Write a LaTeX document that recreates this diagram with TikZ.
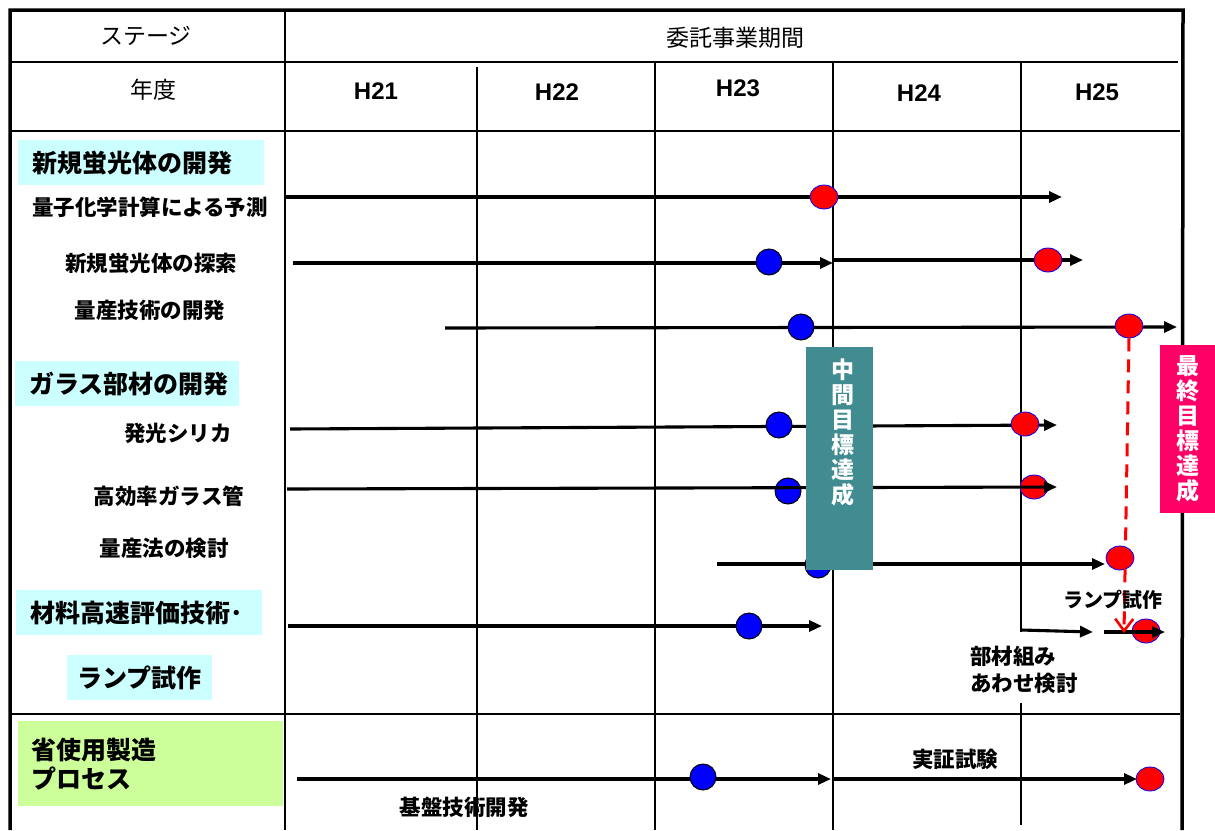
\documentclass[tikz,border=0pt]{standalone}
\usepackage{fontspec}
\setmainfont{Liberation Sans}
\newfontfamily\jp{Noto Sans CJK JP}
\usetikzlibrary{arrows.meta,shapes.geometric}
\definecolor{catcyan}{RGB}{204,255,255}
\definecolor{catgreen}{RGB}{204,255,153}
\definecolor{teal}{RGB}{64,140,144}
\definecolor{pinkbox}{RGB}{255,0,102}
\begin{document}
\begin{tikzpicture}[x=1pt,y=-1pt,
  frame/.style={line width=3.5pt},
  hline/.style={line width=1.8pt},
  vline/.style={line width=1.4pt},
  bar/.style={line width=3.1pt,-{Triangle[length=13pt,width=11pt]}},
  bluems/.style={circle,draw=black,line width=1pt,fill=blue,minimum size=26pt,inner sep=0pt},
  redms/.style={ellipse,draw=blue,line width=0.8pt,fill=red,minimum width=28pt,minimum height=24pt,inner sep=0pt},
  hdr/.style={font=\jp\fontsize{23}{23}\selectfont,inner sep=0pt},
  yr/.style={font=\bfseries\fontsize{24}{24}\selectfont,inner sep=0pt},
  catbox/.style={fill=catcyan,anchor=north west,inner ysep=0pt,minimum height=45pt,align=left,font=\jp\bfseries\fontsize{25}{29}\selectfont},
  sub/.style={font=\jp\bfseries\fontsize{21.5}{27}\selectfont,inner sep=0pt},
  small/.style={font=\jp\bfseries\fontsize{20}{27}\selectfont,inner sep=0pt},
  goal/.style={font=\jp\bfseries\fontsize{23}{25}\selectfont,text=white,align=center,inner sep=0pt},
]
\useasboundingbox (0,0) rectangle (1215,830);
% ---------- grid ----------
\draw[hline] (12,62) -- (1178,62);
\draw[hline] (12,131) -- (1180,131);
\draw[hline] (12,714) -- (1180,714);
\draw[vline] (285,10) -- (285,830);
\draw[vline] (477,67) -- (477,830);
\draw[vline] (655,62) -- (655,830);
\draw[vline] (833,62) -- (833,830);
\draw[vline] (1021,62) -- (1021,632);
\draw[vline] (1021,703) -- (1021,825);
\draw[frame] (10,830) -- (10,10) -- (1183,10) -- (1182,830);
% ---------- header ----------
\node[hdr] (stage) at (146,36) {ステージ};
\node[hdr] (period) at (735,38) {委託事業期間};
\node[hdr] (nendo) at (153,90) {年度};
\node[yr] (h21) at (376,91) {H21};
\node[yr] (h22) at (557,92) {H22};
\node[yr] (h23) at (738,88) {H23};
\node[yr] (h24) at (919,93) {H24};
\node[yr] (h25) at (1097,92) {H25};
% ---------- category boxes ----------
\node[catbox,inner xsep=14pt,text width=218pt] (c1) at (18,140) {新規蛍光体の開発};
\node[catbox,inner xsep=14pt,text width=196pt] (c2) at (15,361) {ガラス部材の開発};
\node[catbox,inner xsep=14pt,text width=218pt] (c3) at (16,590) {材料高速評価技術･};
\node[catbox,inner xsep=0pt,text width=145pt,align=center] (c4) at (67,655) {ランプ試作};
\node[catbox,fill=catgreen,inner xsep=13pt,text width=239pt,minimum height=85pt] (c5) at (18,721) {省使用製造\\プロセス};
% ---------- sub labels ----------
\node[sub] (s1) at (150,207) {量子化学計算による予測};
\node[sub] (s2) at (151,263) {新規蛍光体の探索};
\node[sub] (s3) at (150,310) {量産技術の開発};
\node[sub] (s4) at (178,433) {発光シリカ};
\node[sub] (s5) at (169,496) {高効率ガラス管};
\node[sub] (s6) at (164,548) {量産法の検討};
% ---------- coordinates ----------
\coordinate (a1s) at (285,197); \coordinate (a1e) at (1062,197);
\coordinate (a2s) at (293,263); \coordinate (a2m) at (833,263);
\coordinate (a2n) at (833,260); \coordinate (a2e) at (1083,260);
\coordinate (a3s) at (445,328); \coordinate (a3e) at (1177,327);
\coordinate (a4s) at (290,429); \coordinate (a4e) at (1057,425);
\coordinate (a5s) at (287,489); \coordinate (a5e) at (1057,487);
\coordinate (a6s) at (717,564); \coordinate (a6e) at (1105,564);
\coordinate (a7s) at (288,626); \coordinate (a7e) at (822,626);
\coordinate (a7b) at (1021,630); \coordinate (a7c) at (1093,632);
\coordinate (a7d) at (1104,632); \coordinate (a7f) at (1165,632);
\coordinate (a8s) at (297,779); \coordinate (a8m) at (831,779);
\coordinate (a8n) at (833,779); \coordinate (a8e) at (1137,779);
\coordinate (dashEnd) at (1124,633);
% ---------- bars ----------
\draw[bar] (a1s) -- (a1e);
\draw[bar] (a2s) -- (a2m);
\draw[bar] (a2n) -- (a2e);
\draw[bar] (a3s) -- (a3e);
\draw[bar] (a4s) -- (a4e);
\draw[bar] (a6s) -- (a6e);
\draw[bar] (a7s) -- (a7e);
\draw[bar] (a7b) -- (a7c);
\draw[bar] (a8s) -- (a8m);
\draw[bar] (a8n) -- (a8e);
% ---------- milestones ----------
\node[redms] (m1) at (824,197) {};
\node[bluems] (m2a) at (769,262) {};
\node[redms] (m2b) at (1048,260) {};
\node[bluems] (m3a) at (801,327) {};
\node[redms] (m3b) at (1129,326) {};
\node[bluems] (m4a) at (779,425) {};
\node[redms] (m4b) at (1025,424) {};
\node[bluems] (m5a) at (788,491) {};
\node[redms] (m5b) at (1034,487) {};
\node[bluems] (m6a) at (818,565) {};
\node[redms] (m6b) at (1120,558) {};
\node[bluems] (m7a) at (749,626) {};
\node[redms] (m7b) at (1146,631) {};
\node[bluems] (m8a) at (703,777) {};
\node[redms] (m8b) at (1150,779) {};
\draw[bar] (a5s) -- (a5e);
\draw[bar] (a7d) -- (a7f);
% ---------- dashed red ----------
\draw[red,line width=3pt,dash pattern=on 13pt off 8pt,-{Straight Barb[length=12pt,width=18pt,line width=2.6pt]}] (m3b.south) -- (dashEnd);
% ---------- goal boxes ----------
\node[fill=teal,anchor=north west,minimum width=67pt,minimum height=223pt,inner sep=0pt] (mid) at (806,347) {};
\node[goal] (midt) at (843,432) {中\\間\\目\\標\\達\\成};
\node[fill=pinkbox,goal,minimum width=55pt,minimum height=168pt] (fin) at (1187.5,429) {最\\終\\目\\標\\達\\成};
% ---------- labels ----------
\node[small] (lamp) at (1113,600) {ランプ試作};
\node[sub,anchor=west,align=left] (kumi) at (970,669.5) {部材組み\\あわせ検討};
\node[sub] (jissho) at (955,759) {実証試験};
\node[sub] (kiban) at (464,807) {基盤技術開発};
\end{tikzpicture}
\end{document}
